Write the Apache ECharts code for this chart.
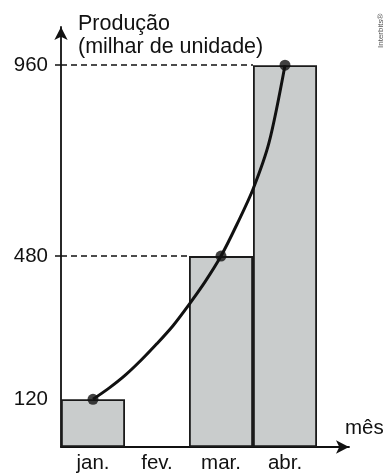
<!DOCTYPE html>
<html>
<head>
<meta charset="utf-8">
<script src="https://cdn.jsdelivr.net/npm/echarts@6/dist/echarts.min.js"></script>
<style>
html,body{margin:0;padding:0;background:#fff;}
#chart{width:386px;height:473px;}
</style>
</head>
<body>
<div id="chart"></div>
<script>
// Data
var months = ['jan.', 'fev.', 'mar.', 'abr.'];
var production = [120, null, 480, 960];          // thousand units (fev. has no bar)
var yTickLabels = [120, 480, 960];
var dashedLevels = [960, 480];
// hand-drawn trend curve (x in month-index units)
var curveX = [0, 0.25, 0.5, 0.75, 1, 1.25, 1.5, 1.75, 2, 2.25, 2.5, 2.75, 3];
var curveY = [120, 148, 180, 218, 260, 305, 358, 415, 480, 560, 648, 765, 960];

var FONT = '"Liberation Sans", Arial, Helvetica, sans-serif';
var INK = '#111';

var barData = [];
var dotData = [];
production.forEach(function (v, i) {
  if (v != null) { barData.push([i, v]); dotData.push([i, v]); }
});
var curveData = curveX.map(function (x, i) { return [x, curveY[i]]; });
var markLines = dashedLevels.map(function (lvl) {
  var idx = production.indexOf(lvl);
  return [{ coord: [-0.5, lvl] }, { coord: [idx - 0.5, lvl] }];
});

var chart = echarts.init(document.getElementById('chart'), null, { renderer: 'canvas' });
chart.setOption({
  animation: false,
  backgroundColor: '#fff',
  title: {
    text: 'Produção\n(milhar de unidade)',
    left: 73, top: 8,
    textStyle: { fontFamily: FONT, fontSize: 21.5, fontWeight: 'normal', color: INK, lineHeight: 23 }
  },
  grid: { left: 61, right: 37, top: 27, bottom: 26, containLabel: false, outerBoundsMode: 'none' },
  xAxis: {
    type: 'value', min: -0.5, max: 4,
    axisLine: { show: true, onZero: false, lineStyle: { color: INK, width: 1.8 }, symbol: ['none', 'arrow'], symbolSize: [10, 13] },
    axisTick: { show: false },
    splitLine: { show: false },
    axisLabel: {
      customValues: [0, 1, 2, 3],
      formatter: function (v) { return months[Math.round(v)]; },
      fontFamily: FONT, fontSize: 20.5, color: INK, margin: 6
    }
  },
  yAxis: {
    type: 'value', min: 0, max: 1056,
    axisLine: { show: true, onZero: false, lineStyle: { color: INK, width: 1.8 }, symbol: ['none', 'arrow'], symbolSize: [10, 13] },
    axisTick: { show: true, customValues: [480, 960], length: 6, lineStyle: { color: INK, width: 1.5 } },
    splitLine: { show: false },
    axisLabel: {
      customValues: yTickLabels,
      fontFamily: FONT, fontSize: 20.5, color: INK, margin: 13
    }
  },
  graphic: [
    { type: 'text', left: 345, top: 418, style: { text: 'mês', font: '20.5px ' + FONT, fill: INK } },
    { type: 'text', x: 381, y: 48, rotation: Math.PI / 2,
      style: { text: 'Interbits®', font: '8px ' + FONT, fill: '#555', align: 'left', verticalAlign: 'middle' } }
  ],
  series: [
    {
      type: 'bar', data: barData, barWidth: 64,
      itemStyle: { color: '#c9cccc', borderColor: '#1a1a1a', borderWidth: 1.8 },
      silent: true,
      markLine: {
        silent: true, symbol: ['none', 'none'], label: { show: false },
        lineStyle: { color: INK, width: 1.6, type: [6, 4] },
        data: markLines
      },
      z: 2
    },
    {
      type: 'line', data: curveData, smooth: 0.3,
      showSymbol: false, symbol: 'none',
      lineStyle: { color: INK, width: 3 }, z: 4, silent: true
    },
    {
      type: 'scatter', data: dotData, symbolSize: 11,
      itemStyle: { color: INK }, z: 5, silent: true
    }
  ]
});
</script>
</body>
</html>
